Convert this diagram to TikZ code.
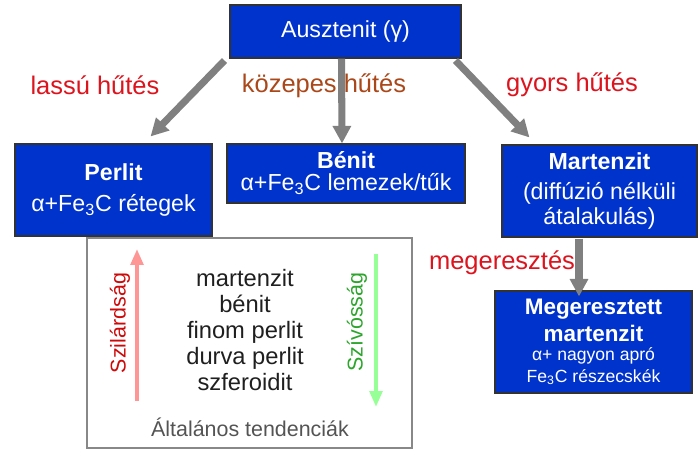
\documentclass[tikz,border=0pt]{standalone}
\usepackage{fontspec}
\setmainfont{Liberation Sans}
\usetikzlibrary{arrows.meta,positioning}
\definecolor{dobozkek}{RGB}{0,51,204}
\definecolor{hutpiros}{RGB}{220,20,30}
\definecolor{kozbarna}{RGB}{170,72,25}
\definecolor{nyilszurke}{RGB}{128,128,128}
\definecolor{szilpiros}{RGB}{205,10,10}
\definecolor{szivzold}{RGB}{45,165,45}
\definecolor{rozsanyil}{RGB}{255,150,150}
\definecolor{zoldnyil}{RGB}{150,255,150}
\definecolor{keretszurke}{RGB}{136,136,136}

\begin{document}
\begin{tikzpicture}[x=0.02cm,y=-0.02cm,
	doboz/.style={draw=black!80,line width=0.6pt,fill=dobozkek,text=white,inner sep=0pt,align=center,font=\fontsize{13.2}{15.8}\selectfont},
	hutes/.style={text=hutpiros,font=\fontsize{14.5}{17}\selectfont},
	nyil/.style={draw=nyilszurke,line width=4pt,-{Triangle[width=10pt,length=10pt]}},
	tendnyil/.style={line width=2.6pt,-{Triangle[width=7pt,length=9pt]}},
	tulajd/.style={rotate=90,font=\fontsize{12.2}{14}\selectfont}]
	\useasboundingbox (0,0) rectangle (700,450);

	\node [doboz, minimum width=4.62cm, minimum height=1.06cm] (ausztenit) at (345.5,31.5) {Ausztenit (γ)};
	\node [doboz, minimum width=3.94cm, minimum height=1.84cm] (perlit) at (113.5,190) {\bfseries Perlit\\[1.8pt] α+Fe\textsubscript{3}C rétegek};
	\node [doboz, minimum width=4.76cm, minimum height=1.18cm] (benit) at (346,173.5) {\bfseries Bénit\\[-3.3pt] α+Fe\textsubscript{3}C lemezek/tűk};
	\node [doboz, minimum width=3.9cm, minimum height=1.84cm] (martenzit) at (599.5,191) {\bfseries Martenzit\\[1.2pt] (diffúzió nélküli\\[-1.6pt] átalakulás)};
	\node [doboz, minimum width=3.94cm, minimum height=2.04cm, font=\fontsize{12.8}{15.3}\selectfont\bfseries] (megeresztett) at (593.5,342) {Megeresztett\\ martenzit\\[-4.5pt] {\mdseries\fontsize{10}{12}\selectfont α+ nagyon apró}\\[-2.8pt] {\mdseries\fontsize{10}{12}\selectfont Fe\textsubscript{3}C részecskék}};

	\node [hutes] (lassu) at (95,85) {lassú hűtés};
	\node [hutes, text=kozbarna] (kozepes) at (324,86) {közepes hűtés};
	\node [hutes] (gyors) at (572,85) {gyors hűtés};
	\node [hutes] (megereszt) at (502,263) {megeresztés};

	\draw [nyil] ([shift={(-5,2)}]ausztenit.south west) to ([shift={(-62,-7)}]perlit.north east);
	\draw [nyil] ([shift={(-4,0)}]ausztenit.south) to ([shift={(-4,0)}]benit.north);
	\draw [nyil] ([shift={(-6,2)}]ausztenit.south east) to ([shift={(28,-7)}]martenzit.north west);
	\draw [nyil] ([shift={(-20.5,1)}]martenzit.south) to ([shift={(-14.5,6)}]megeresztett.north);

	\node [draw=keretszurke, line width=0.8pt, minimum width=6.5cm, minimum height=4.2cm] (tendencia) at (249.5,343) {};
	\node [align=center, text=black!88, font=\fontsize{13.5}{14.8}\selectfont] (sorrend) at (245,330) {martenzit\\ bénit\\ finom perlit\\ durva perlit\\ szferoidit};
	\node [text=black!67, font=\fontsize{12.2}{14}\selectfont] (altalanos) at (250,427) {Általános tendenciák};

	\coordinate (szil_also) at (137,401);
	\coordinate (szil_felso) at (137,249);
	\draw [tendnyil, draw=rozsanyil] (szil_also) to (szil_felso);
	\node [tulajd, text=szilpiros] (szilardsag) at (120,323) {Szilárdság};

	\coordinate (sziv_felso) at (376,254);
	\coordinate (sziv_also) at (376,407);
	\draw [tendnyil, draw=zoldnyil] (sziv_felso) to (sziv_also);
	\node [tulajd, text=szivzold] (szivossag) at (357,322) {Szívósság};
\end{tikzpicture}
\end{document}
